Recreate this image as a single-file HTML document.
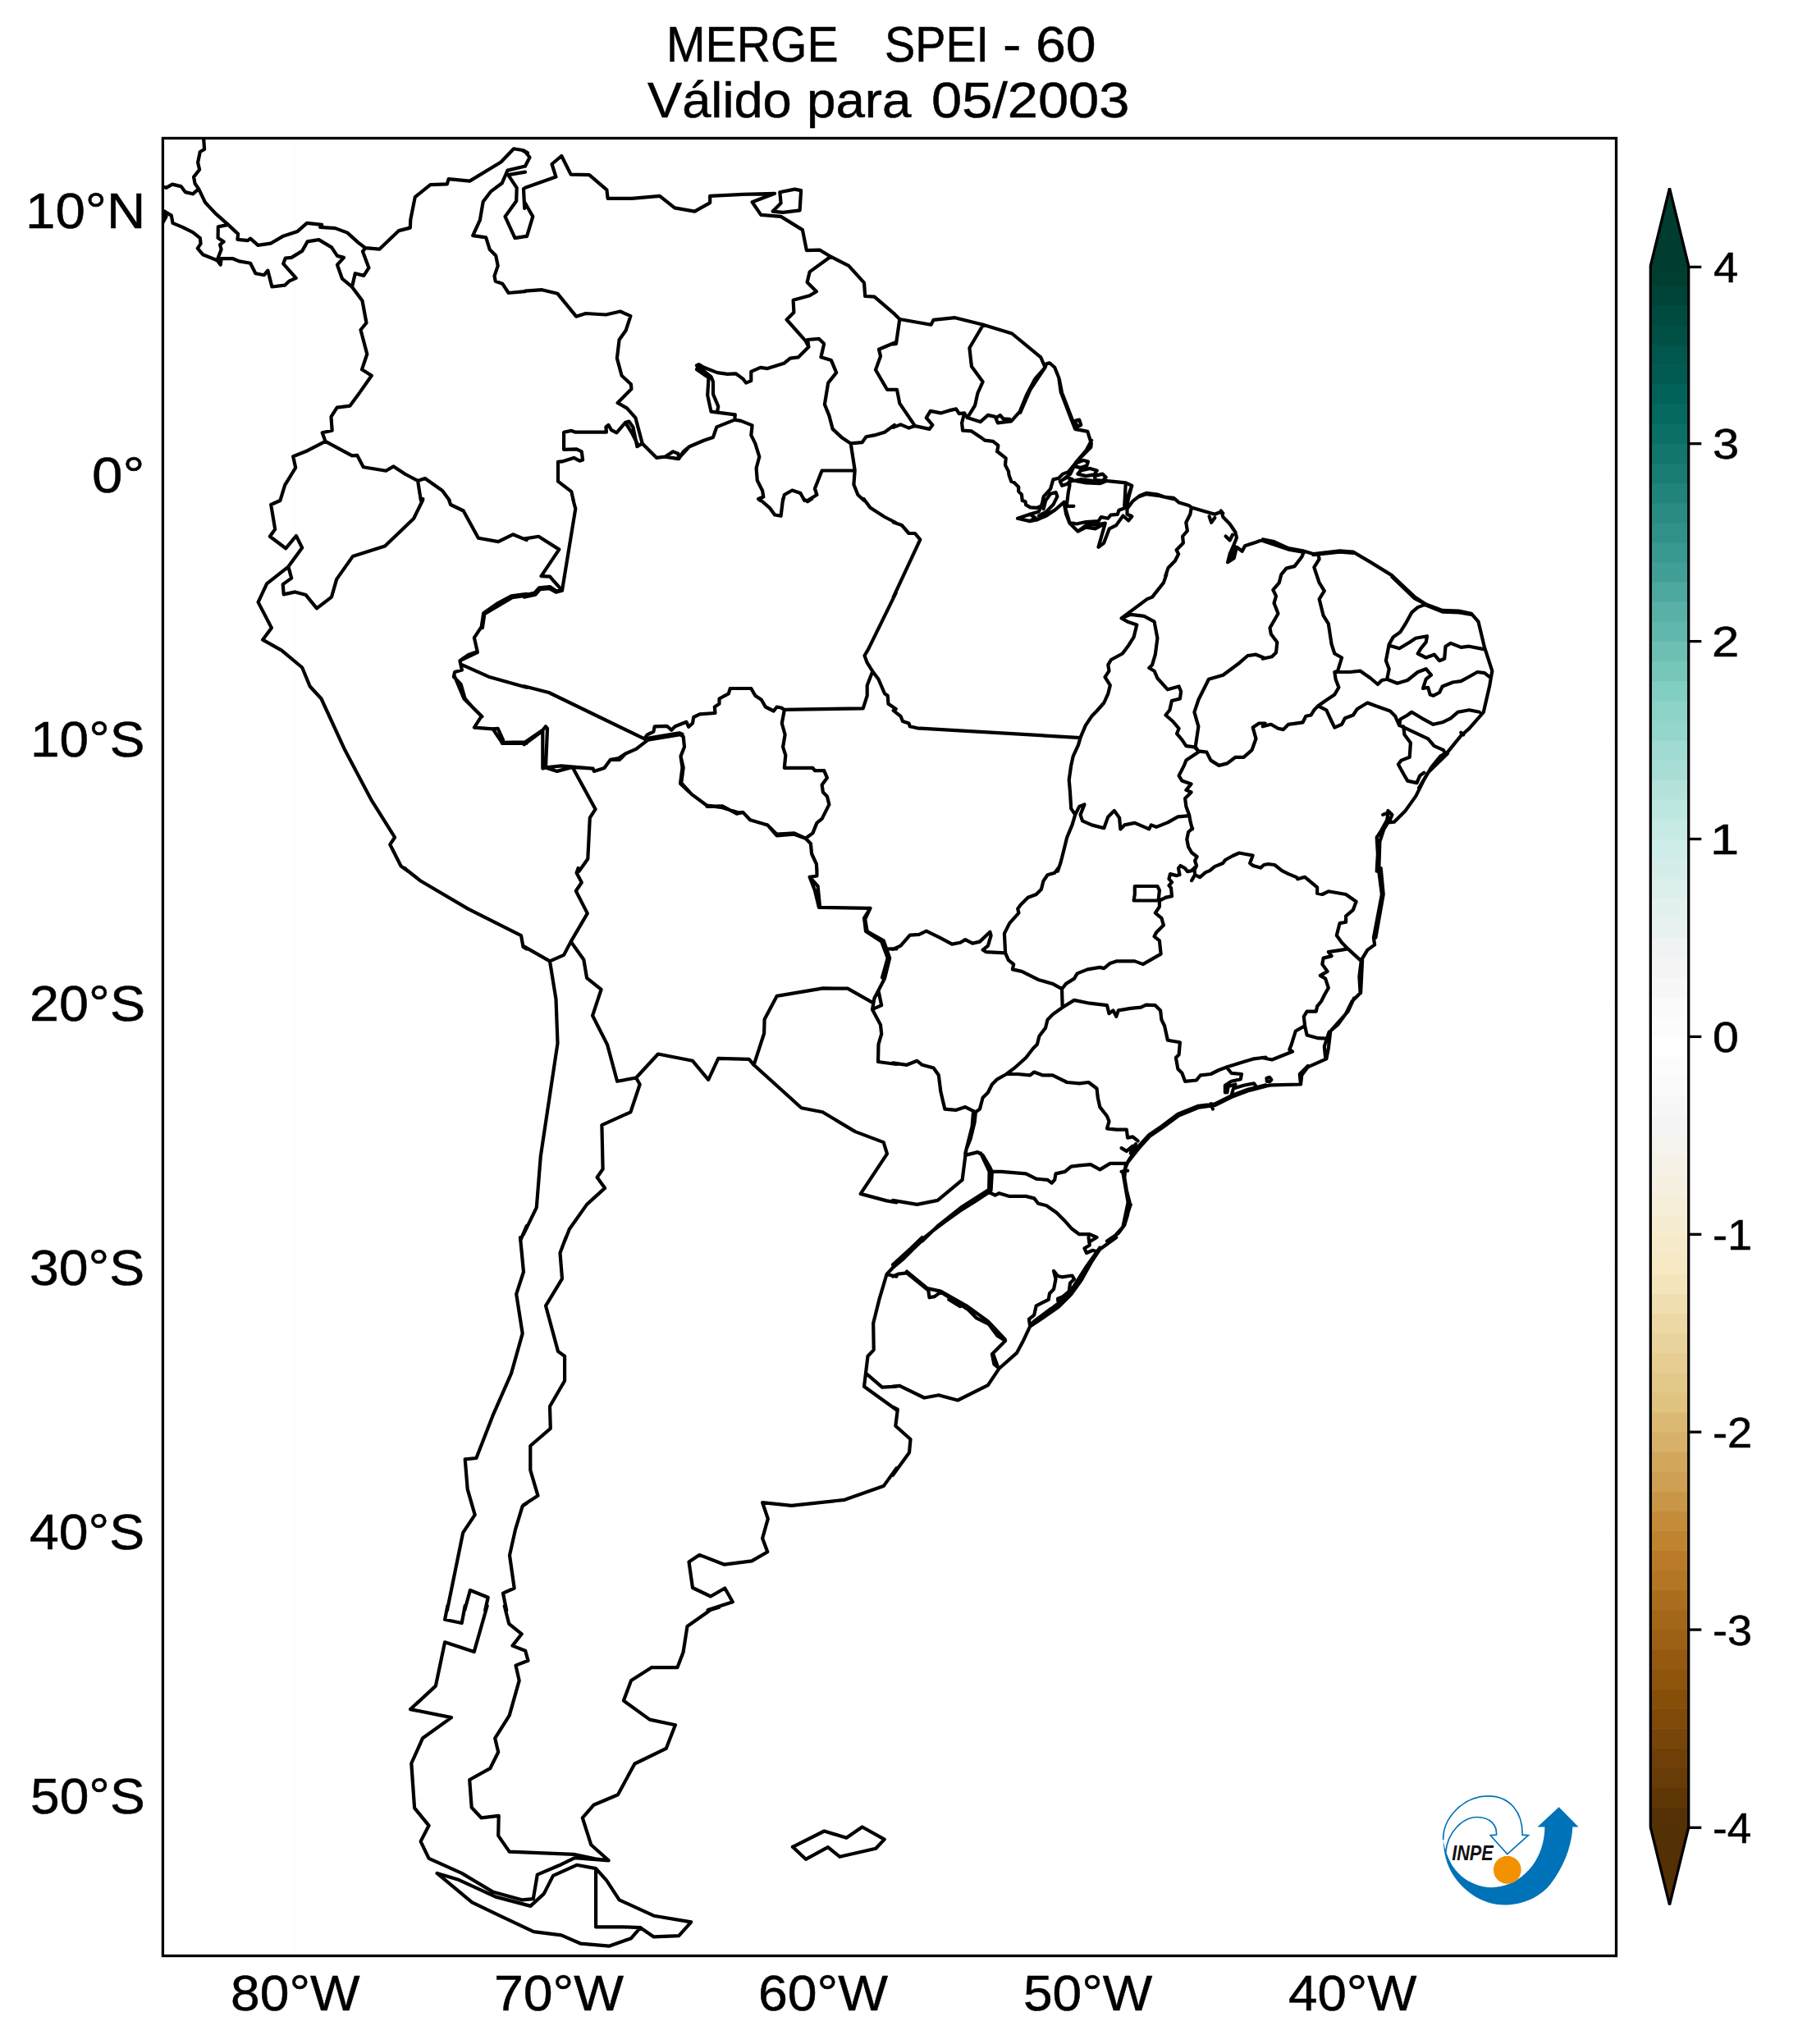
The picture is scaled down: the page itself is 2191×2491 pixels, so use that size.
<!DOCTYPE html>
<html><head><meta charset="utf-8"><title>MERGE SPEI - 60</title>
<style>
html,body{margin:0;padding:0;background:#fff;}
body{width:2191px;height:2491px;position:relative;overflow:hidden;font-family:"Liberation Sans",sans-serif;color:#000;}
.w{position:absolute;white-space:pre;transform-origin:0 0;-webkit-text-stroke:0.5px #000;}
svg{position:absolute;left:0;top:0;}
</style></head><body>
<div class="w" style="left:812.03px;top:22.75px;font-size:61.59px;line-height:61.59px;transform:scaleX(0.9279)">MERGE</div><div class="w" style="left:1077.79px;top:22.75px;font-size:61.59px;line-height:61.59px;transform:scaleX(0.9058)">SPEI</div><div class="w" style="left:1221.99px;top:22.75px;font-size:61.59px;line-height:61.59px;transform:scaleX(1.0868)">-</div><div class="w" style="left:1262.49px;top:22.75px;font-size:61.59px;line-height:61.59px;transform:scaleX(1.0755)">60</div><div class="w" style="left:789.18px;top:91.15px;font-size:61.59px;line-height:61.59px;transform:scaleX(1.0269)">Válido</div><div class="w" style="left:983.46px;top:91.15px;font-size:61.59px;line-height:61.59px;transform:scaleX(1.0337)">para</div><div class="w" style="left:1135.23px;top:91.15px;font-size:61.59px;line-height:61.59px;transform:scaleX(1.0845)">05/2003</div><div class="w" style="left:31.09px;top:225.67px;font-size:61.59px;line-height:61.59px;transform:scaleX(1.0631)">10°N</div><div class="w" style="left:111.91px;top:547.65px;font-size:61.59px;line-height:61.59px;transform:scaleX(1.0937)">0°</div><div class="w" style="left:37.20px;top:869.63px;font-size:61.59px;line-height:61.59px;transform:scaleX(1.0387)">10°S</div><div class="w" style="left:35.56px;top:1191.61px;font-size:61.59px;line-height:61.59px;transform:scaleX(1.0512)">20°S</div><div class="w" style="left:36.43px;top:1513.59px;font-size:61.59px;line-height:61.59px;transform:scaleX(1.0446)">30°S</div><div class="w" style="left:36.39px;top:1835.57px;font-size:61.59px;line-height:61.59px;transform:scaleX(1.0449)">40°S</div><div class="w" style="left:36.94px;top:2157.55px;font-size:61.59px;line-height:61.59px;transform:scaleX(1.0408)">50°S</div><div class="w" style="left:280.71px;top:2397.95px;font-size:61.59px;line-height:61.59px;transform:scaleX(1.0423)">80°W</div><div class="w" style="left:602.38px;top:2397.95px;font-size:61.59px;line-height:61.59px;transform:scaleX(1.0445)">70°W</div><div class="w" style="left:924.38px;top:2397.95px;font-size:61.59px;line-height:61.59px;transform:scaleX(1.0445)">60°W</div><div class="w" style="left:1247.04px;top:2397.95px;font-size:61.59px;line-height:61.59px;transform:scaleX(1.0401)">50°W</div><div class="w" style="left:1570.01px;top:2397.95px;font-size:61.59px;line-height:61.59px;transform:scaleX(1.0337)">40°W</div><div class="w" style="left:2087.64px;top:299.81px;font-size:52.17px;line-height:52.17px;transform:scaleX(1.0427)">4</div><div class="w" style="left:2086.69px;top:515.11px;font-size:52.17px;line-height:52.17px;transform:scaleX(1.1092)">3</div><div class="w" style="left:2086.01px;top:756.01px;font-size:52.17px;line-height:52.17px;transform:scaleX(1.1458)">2</div><div class="w" style="left:2084.26px;top:996.91px;font-size:52.17px;line-height:52.17px;transform:scaleX(1.2124)">1</div><div class="w" style="left:2086.71px;top:1237.81px;font-size:52.17px;line-height:52.17px;transform:scaleX(1.0975)">0</div><div class="w" style="left:2086.55px;top:1478.71px;font-size:52.17px;line-height:52.17px;transform:scaleX(1.0415)">-1</div><div class="w" style="left:2086.55px;top:1719.61px;font-size:52.17px;line-height:52.17px;transform:scaleX(1.0415)">-2</div><div class="w" style="left:2086.57px;top:1960.51px;font-size:52.17px;line-height:52.17px;transform:scaleX(1.0350)">-3</div><div class="w" style="left:2086.61px;top:2201.71px;font-size:52.17px;line-height:52.17px;transform:scaleX(1.0160)">-4</div>
<svg width="2191" height="2491" viewBox="0 0 2191 2491">
<defs><clipPath id="c"><rect x="198.4" y="168.45" width="1771.1" height="2215.1"/></clipPath></defs>
<line x1="360.0" y1="168.45" x2="360.0" y2="2383.5" stroke="#000" stroke-opacity="0.007" stroke-width="2"/><line x1="682.0" y1="168.45" x2="682.0" y2="2383.5" stroke="#000" stroke-opacity="0.007" stroke-width="2"/><line x1="1004.0" y1="168.45" x2="1004.0" y2="2383.5" stroke="#000" stroke-opacity="0.007" stroke-width="2"/><line x1="1326.0" y1="168.45" x2="1326.0" y2="2383.5" stroke="#000" stroke-opacity="0.007" stroke-width="2"/><line x1="1648.0" y1="168.45" x2="1648.0" y2="2383.5" stroke="#000" stroke-opacity="0.007" stroke-width="2"/><line x1="198.4" y1="260.0" x2="1969.5" y2="260.0" stroke="#000" stroke-opacity="0.007" stroke-width="2"/><line x1="198.4" y1="582.0" x2="1969.5" y2="582.0" stroke="#000" stroke-opacity="0.007" stroke-width="2"/><line x1="198.4" y1="904.0" x2="1969.5" y2="904.0" stroke="#000" stroke-opacity="0.007" stroke-width="2"/><line x1="198.4" y1="1226.0" x2="1969.5" y2="1226.0" stroke="#000" stroke-opacity="0.007" stroke-width="2"/><line x1="198.4" y1="1547.9" x2="1969.5" y2="1547.9" stroke="#000" stroke-opacity="0.007" stroke-width="2"/><line x1="198.4" y1="1869.9" x2="1969.5" y2="1869.9" stroke="#000" stroke-opacity="0.007" stroke-width="2"/><line x1="198.4" y1="2191.9" x2="1969.5" y2="2191.9" stroke="#000" stroke-opacity="0.007" stroke-width="2"/>
<g clip-path="url(#c)"><path d="M1088.0 1156.9 L1097.5 1152.6 L1108.8 1139.6 L1120.0 1138.8 L1128.8 1134.6 L1145.1 1142.6 L1160.1 1150.6 L1170.1 1148.8 L1176.3 1145.1 L1185.1 1149.6 L1193.9 1147.6 L1206.4 1135.8 L1207.6 1140.1 L1203.9 1152.6 L1197.6 1157.6 L1201.4 1160.1 L1225.1 1161.4 M1289.5 1058.0 L1285.2 1063.8 L1276.5 1066.3 L1271.4 1073.8 L1268.9 1083.8 L1262.7 1090.0 L1252.7 1093.8 L1243.9 1102.5 L1240.2 1107.6 L1241.4 1112.6 L1230.2 1125.1 L1223.9 1137.6 L1225.1 1161.4 L1228.9 1170.1 L1235.2 1175.1 L1233.9 1181.4 L1245.2 1183.9 L1265.2 1193.9 L1282.7 1198.9 L1294.0 1205.2 M1294.0 1205.2 L1299.0 1198.9 L1309.0 1192.6 L1312.7 1186.4 L1325.3 1181.4 L1340.3 1178.9 L1345.3 1180.1 L1352.8 1173.9 L1360.3 1171.4 L1382.8 1171.4 L1392.8 1175.1 L1414.6 1162.6 L1412.9 1146.3 L1406.6 1141.3 L1409.1 1136.3 L1417.9 1127.6 L1415.4 1118.8 L1407.8 1112.6 L1412.9 1105.0 L1412.9 1097.5 L1420.4 1093.8 M1382.8 1080.0 L1410.4 1080.0 L1412.9 1085.0 L1411.6 1097.5 L1381.6 1097.5 L1382.8 1090.0 L1382.8 1080.0 M1294.0 1205.2 L1294.7 1227.7 L1282.7 1236.4 L1276.5 1242.7 L1274.0 1252.7 L1266.4 1262.7 L1263.9 1272.7 L1258.9 1277.7 L1250.2 1289.0 L1237.7 1300.3 L1226.4 1309.0 L1215.1 1315.3 L1208.9 1321.5 L1203.9 1331.5 L1197.6 1337.8 L1193.9 1351.6 L1188.9 1355.3 M1294.7 1227.7 L1309.0 1218.9 L1327.8 1222.7 L1349.0 1225.2 L1351.5 1235.2 L1356.5 1231.4 L1360.3 1238.9 L1362.8 1231.4 L1377.8 1228.9 L1390.3 1227.7 L1396.6 1224.7 L1407.8 1225.2 L1414.1 1231.4 L1415.4 1242.7 L1419.1 1250.2 L1422.9 1267.7 L1437.9 1270.2 L1436.6 1285.2 L1432.9 1289.0 L1435.4 1302.8 L1440.4 1307.8 L1444.1 1317.8 L1457.9 1316.5 L1462.9 1310.3 L1475.4 1309.0 L1485.4 1304.0 L1495.4 1300.3 L1515.5 1294.0 L1528.0 1290.3 L1542.5 1288.5 M1495.4 1301.5 L1500.5 1307.8 L1513.0 1309.0 L1511.7 1315.3 L1500.5 1317.8 L1492.9 1322.8 L1492.9 1331.5 M1226.4 1309.0 L1240.2 1309.0 L1255.2 1310.3 L1260.2 1306.5 L1270.2 1310.3 L1282.7 1310.3 L1300.2 1319.0 L1315.2 1320.3 L1326.5 1319.0 L1336.5 1326.5 L1337.8 1337.8 L1340.3 1349.1 L1349.0 1360.3 L1351.5 1366.6 L1349.0 1375.3 L1360.3 1376.6 L1372.8 1376.6 L1374.1 1386.6 L1380.3 1385.4 L1386.6 1390.4 M1542.5 1322.3 L1520.5 1327.8 L1500.5 1335.3 L1480.4 1345.3 L1460.4 1347.8 L1435.4 1357.8 L1415.4 1372.8 L1400.3 1382.9 L1386.6 1397.9 L1377.8 1410.4 L1371.6 1420.4 L1370.3 1435.4 L1372.8 1450.4 L1376.6 1465.4 L1374.1 1480.5 L1370.3 1493.0 L1362.8 1503.0 L1349.0 1512.5 M1542.5 1323.8 L1521.0 1329.3 L1501.0 1336.8 L1480.9 1346.8 L1460.9 1349.6 L1436.4 1359.6 L1416.4 1374.3 L1401.3 1384.4 L1387.8 1399.4 L1374.1 1416.6 L1368.6 1430.4 L1374.6 1465.4 L1368.3 1495.5 L1360.3 1504.2 M1500.5 1335.3 L1503.0 1326.5 L1515.5 1322.8 L1528.0 1320.3 L1530.5 1324.0 M1495.4 1331.5 L1496.7 1324.0 L1505.5 1321.5 M1475.4 1345.3 L1477.9 1351.6 M1366.6 1399.1 L1372.8 1402.9 L1380.3 1396.6 L1377.8 1405.4 L1384.1 1394.1 M1377.8 1467.9 L1374.8 1476.7 M1366.6 1427.9 L1374.1 1426.7 M1371.6 1417.9 L1352.8 1417.9 L1340.3 1425.4 L1329.0 1419.1 L1315.2 1420.4 L1305.2 1421.6 L1297.7 1427.9 L1286.5 1430.4 L1285.2 1437.9 L1281.5 1441.7 L1276.5 1437.9 L1262.7 1436.7 L1250.2 1430.4 L1235.2 1429.2 L1220.1 1427.9 L1210.1 1427.9 M1205.1 1452.9 L1212.6 1456.7 L1217.6 1454.2 L1230.2 1457.9 L1250.2 1457.9 L1260.2 1460.4 L1265.2 1466.7 L1275.2 1469.2 L1287.7 1478.0 L1297.7 1488.0 L1305.2 1496.7 L1315.2 1504.2 L1327.8 1504.2 L1336.5 1508.0 L1329.0 1512.5 M1088.0 1295.3 L1105.0 1297.8 L1117.5 1292.8 L1123.8 1297.8 L1137.6 1301.5 L1143.8 1310.3 L1146.3 1330.3 L1151.3 1351.6 L1165.1 1352.8 L1176.3 1349.1 L1188.9 1355.3 L1187.6 1367.8 L1182.6 1387.9 L1177.6 1400.4 L1176.3 1407.9 L1191.4 1404.1 L1197.6 1407.9 L1206.4 1422.9 L1208.9 1427.9 L1207.6 1450.4 L1205.1 1452.9 M1185.9 1356.6 L1184.6 1372.8 L1176.3 1405.4 M1195.1 1405.4 L1205.6 1427.9 L1205.1 1450.4 M1176.3 1409.1 L1172.6 1437.9 L1142.6 1462.9 L1117.5 1467.9 L1088.0 1462.9 M1205.1 1452.9 L1190.1 1462.9 L1170.1 1475.5 L1152.6 1488.0 L1137.6 1499.2 L1121.3 1512.5 M1203.9 1450.4 L1172.6 1470.5 L1142.6 1494.2 L1123.8 1512.5 M1127.5 1508.0 L1112.5 1522.5 L1100.0 1535.0 L1088.0 1545.0 M1123.8 1508.0 L1110.0 1521.3 L1088.0 1541.3 M1088.0 1555.6 L1095.0 1552.5 L1105.0 1551.3 L1131.3 1572.6 L1132.5 1581.3 L1138.8 1580.1 L1146.3 1574.6 L1162.6 1585.1 L1180.1 1596.3 L1190.1 1606.4 L1205.1 1613.9 L1215.1 1627.6 L1225.1 1633.9 L1208.9 1650.2 L1211.4 1662.7 L1217.6 1667.7 M1105.0 1549.5 L1130.0 1570.1 L1146.3 1573.6 L1177.6 1591.3 L1203.9 1610.1 L1224.6 1632.1 M1210.1 1649.7 L1213.9 1660.2 L1216.4 1667.2 M1156.3 1583.8 L1170.1 1592.1 M1360.3 1508.0 L1340.3 1522.5 L1330.3 1537.5 L1317.8 1560.1 L1305.2 1577.6 L1290.2 1592.6 L1270.2 1606.4 L1255.2 1616.4 L1246.4 1635.1 L1238.9 1648.9 L1217.6 1667.7 L1203.9 1688.2 L1167.1 1706.5 L1143.8 1700.2 L1126.3 1703.5 L1096.3 1688.9 L1088.0 1689.7 M1340.3 1520.5 L1322.8 1545.0 L1307.7 1568.8 L1295.2 1583.8 L1257.2 1613.9 M1255.2 1616.4 L1253.9 1607.6 L1260.2 1602.6 L1262.7 1591.3 L1277.7 1583.8 L1279.0 1576.3 L1284.0 1571.3 L1286.5 1558.8 L1284.0 1548.8 L1289.0 1555.0 L1294.0 1556.3 L1306.5 1554.5 L1309.0 1558.8 L1304.0 1563.8 L1302.7 1573.8 L1295.2 1580.1 L1289.0 1582.6 L1290.2 1592.6 L1280.2 1595.1 L1265.2 1606.4 L1260.2 1610.1 L1255.2 1616.4 M1326.5 1508.0 L1327.8 1517.5 L1321.5 1521.3 L1324.0 1527.0 L1331.5 1523.8 L1337.8 1525.5 M1088.0 1714.7 L1093.8 1717.7 L1091.3 1737.8 L1109.5 1754.0 L1108.0 1770.3 L1088.0 1797.8 M1088.7 381.5 L1090.0 382.7 L1096.3 389.0 L1134.5 395.8 L1137.6 389.8 L1163.8 387.2 L1198.1 395.8 L1233.2 406.5 L1268.2 435.3 L1273.5 447.8 M1096.3 389.0 L1092.0 419.0 L1088.7 419.5 M1088.7 474.8 L1093.0 474.8 L1096.3 491.6 L1115.0 519.1 M1198.1 395.8 L1181.4 424.0 L1183.9 446.6 L1197.6 465.3 L1191.4 479.1 L1188.1 494.1 L1178.8 509.1 M1088.7 520.9 L1097.5 517.4 L1107.5 521.6 L1115.0 519.1 L1132.5 522.9 L1136.3 517.9 L1128.8 509.1 L1133.8 500.9 L1146.3 503.4 L1156.3 500.4 L1165.1 498.4 L1168.8 504.1 L1175.1 503.4 L1178.8 509.1 L1194.6 514.1 L1203.9 505.9 L1212.6 507.9 L1215.9 515.4 L1232.2 513.4 L1242.7 501.6 L1251.4 480.4 L1261.4 461.6 L1273.5 447.8 M1213.9 509.1 L1218.9 506.1 L1222.6 510.4 L1230.2 510.9 M1243.2 502.9 L1255.2 475.3 L1273.5 447.8 M1175.1 503.4 L1172.1 515.4 L1173.1 524.7 L1183.9 525.4 L1195.1 532.9 L1200.1 536.7 L1210.1 537.9 L1216.4 542.9 L1215.1 550.4 M1273.5 447.8 L1275.2 443.3 L1279.0 442.3 L1285.2 447.8 L1290.2 460.3 L1292.7 477.8 L1305.2 510.4 L1310.2 522.9 L1325.3 525.9 L1329.8 540.4 M1290.7 461.6 L1294.0 478.4 L1306.5 510.9 L1311.5 523.4 M1310.2 512.9 L1315.2 511.6 L1317.2 517.9 L1312.7 520.4 L1310.2 512.9 M1088.7 636.5 L1098.8 640.0 L1107.5 650.0 L1115.0 650.0 L1121.3 657.6 L1088.7 727.6 M1088.7 865.8 L1097.5 872.8 L1100.0 879.0 L1107.5 881.5 L1108.8 885.3 L1117.5 887.3 L1316.5 899.1 M1366.6 753.4 L1374.1 757.7 L1385.3 761.4 L1381.6 776.4 L1375.3 786.4 L1367.8 796.5 L1354.0 804.0 L1350.3 810.2 L1351.5 817.7 L1346.5 825.2 L1352.8 835.2 L1350.3 845.3 L1345.3 856.5 L1336.5 866.5 L1330.3 872.8 L1322.8 884.1 L1316.5 899.1 L1314.0 907.8 L1307.7 921.6 L1305.2 932.9 L1302.7 950.4 L1304.0 965.4 L1305.2 985.4 L1310.2 992.9 L1306.5 1005.4 L1300.2 1020.5 L1296.5 1035.5 L1292.7 1050.5 L1289.0 1061.7 M1366.6 753.4 L1397.8 730.1 L1404.1 727.6 L1417.9 710.1 L1421.4 700.1 M1366.6 753.4 L1377.8 748.9 L1394.1 750.9 L1406.6 757.7 L1410.4 777.7 L1407.8 797.7 L1404.1 810.2 L1400.3 814.0 L1406.6 817.7 L1410.4 826.5 L1422.9 840.3 L1436.6 836.5 L1439.1 842.8 L1437.9 851.5 L1427.9 854.0 L1425.4 865.3 L1420.4 871.5 L1429.1 879.0 L1436.6 887.8 L1434.1 894.1 L1440.4 901.6 L1445.4 909.1 L1455.4 910.3 L1460.4 915.3 M1460.4 915.3 L1456.7 910.3 L1460.4 885.3 L1455.4 867.8 L1460.4 852.8 L1469.2 835.2 L1472.9 827.7 L1490.4 822.7 L1500.5 815.2 L1510.5 807.7 L1520.5 799.0 L1530.5 797.7 L1541.7 802.2 M1460.4 915.3 L1470.4 916.6 L1475.4 926.6 L1485.4 932.9 L1495.4 930.4 L1505.5 922.8 L1515.5 922.8 L1525.5 914.1 L1530.5 900.3 L1526.7 886.6 L1534.2 881.5 L1541.7 881.5 M1460.4 916.6 L1445.4 926.6 L1442.9 932.9 L1436.6 945.4 L1440.4 951.6 L1451.6 955.4 L1445.4 962.9 L1451.6 965.4 L1444.1 972.9 L1445.4 982.9 L1449.1 992.9 L1450.4 1000.4 L1452.9 1010.4 M1310.2 992.9 L1315.2 982.9 L1321.5 980.4 L1316.5 992.9 L1319.0 1000.4 L1330.3 1005.4 L1345.3 1009.2 L1350.3 995.4 L1357.8 987.9 L1364.1 996.7 L1365.3 1010.4 L1370.3 1005.4 L1382.8 1002.9 L1400.3 1010.4 L1402.8 1005.4 L1409.1 1007.9 L1422.9 1002.4 L1435.4 995.4 L1449.1 994.2 M1215.0 550.0 L1225.7 558.4 L1225.0 566.7 L1229.0 574.6 L1229.5 578.9 L1232.3 586.7 L1235.7 587.9 L1241.2 593.4 L1241.2 598.9 L1245.0 602.8 L1245.7 610.1 L1249.5 611.3 L1250.0 615.1 L1255.5 618.4 L1262.9 618.9 L1269.0 616.8 L1271.7 606.8 M1329.8 540.4 L1329.3 545.0 L1318.4 555.9 L1310.1 565.1 L1301.8 575.1 L1295.1 577.6 L1290.1 582.7 L1283.4 584.4 L1280.1 595.9 L1271.7 605.1 L1270.0 613.4 L1265.9 623.5 L1255.0 626.8 L1240.0 631.8 L1255.0 635.1 L1263.4 633.5 L1285.1 621.8 L1296.7 611.8 M1330.1 536.7 L1323.4 549.2 L1310.9 563.7 L1304.3 577.6 L1296.7 583.4 M1255.0 626.8 L1261.7 631.0 L1255.0 635.1 M1311.8 564.2 L1320.1 560.9 L1325.9 562.5 L1324.3 567.6 L1316.8 570.1 L1310.1 568.4 L1311.8 564.2 M1316.8 573.4 L1328.4 570.9 L1336.8 573.4 L1333.5 578.4 L1323.4 580.1 L1313.4 577.6 L1316.8 573.4 M1333.5 580.1 L1343.5 577.6 L1347.6 581.7 L1343.5 585.9 L1335.1 585.1 L1333.5 580.1 M1291.7 586.7 L1300.1 581.7 L1306.8 584.2 L1300.1 590.1 L1294.2 591.8 L1291.7 586.7 M1271.7 620.1 L1274.2 610.1 L1280.1 601.8 L1286.7 600.1 L1288.4 605.1 L1283.4 615.1 L1275.1 623.5 L1265.9 628.5 M1285.1 621.8 L1275.1 628.5 L1263.4 633.5 M1303.4 586.7 L1316.8 584.2 L1336.8 586.7 L1346.8 585.9 L1371.8 588.4 L1379.3 591.8 L1375.2 606.8 L1372.7 618.4 L1368.5 620.1 L1363.5 621.8 L1361.8 626.8 L1353.5 627.6 L1350.1 631.8 L1341.8 630.1 L1338.5 635.1 L1323.4 636.0 L1311.8 638.5 L1303.4 636.8 L1298.4 620.1 L1300.1 613.4 L1301.8 600.1 L1303.4 591.8 L1303.4 586.7 M1310.1 585.9 L1323.4 588.4 L1340.1 589.2 L1346.8 586.7 M1371.8 588.4 L1370.2 616.8 L1379.3 591.8 M1300.1 616.8 L1308.4 616.8 M1296.7 613.4 L1299.2 626.8 L1303.4 637.6 L1313.4 647.6 L1323.4 642.6 L1335.1 644.3 L1346.8 637.6 L1338.5 666.8 L1345.1 661.8 L1351.8 644.3 L1360.2 640.1 L1368.5 628.5 L1375.2 634.3 L1379.3 629.3 L1373.5 626.8 L1373.5 620.1 M1313.4 647.6 L1323.4 640.1 L1336.8 639.3 L1346.8 637.6 M1373.5 620.1 L1380.2 610.9 L1388.5 604.3 L1396.9 600.9 L1410.2 602.6 L1420.2 605.9 L1430.2 606.8 L1436.9 612.6 L1448.6 615.9 L1451.9 618.4 L1480.3 626.8 L1488.6 623.5 L1490.3 630.1 L1498.6 638.5 L1505.3 648.5 L1507.0 655.2 L1503.7 663.5 L1498.6 675.2 L1496.1 685.2 L1503.7 680.2 L1507.0 666.8 L1513.7 671.8 L1517.0 665.2 L1530.0 661.0 L1538.7 657.8 M1388.5 605.1 L1396.9 602.1 L1410.2 603.8 L1430.2 608.1 M1473.6 629.3 L1476.1 636.8 L1480.3 631.0 M1493.6 653.5 L1498.6 658.5 L1502.0 651.8 M1503.7 663.5 L1497.0 684.4 L1506.2 666.8 M1487.8 622.6 L1490.3 625.5 M1451.9 618.4 L1450.3 626.8 L1445.3 636.8 L1446.9 646.8 L1441.1 653.5 L1441.9 661.8 L1433.6 670.2 L1436.1 675.2 L1431.9 683.5 L1423.6 691.9 L1420.2 701.9 M1453.1 1009.5 L1448.1 1014.0 L1446.3 1023.0 L1448.1 1032.0 L1452.1 1039.0 L1458.6 1044.0 L1456.1 1049.0 L1458.1 1055.0 L1455.6 1060.1 L1456.1 1066.1 L1452.1 1073.1 M1420.0 1093.9 L1428.0 1092.1 L1427.0 1082.1 L1424.5 1079.1 L1428.0 1075.1 L1424.5 1071.1 L1426.0 1065.1 L1434.0 1067.1 L1437.5 1066.1 L1436.0 1058.1 L1438.5 1055.0 L1444.0 1058.1 L1447.1 1062.1 L1452.1 1061.1 L1456.1 1057.1 M1456.1 1066.1 L1462.1 1069.1 L1469.1 1063.1 L1474.1 1061.1 L1480.1 1056.1 L1490.1 1052.0 L1493.1 1048.0 L1502.1 1043.0 L1510.1 1039.5 L1518.1 1041.0 L1526.6 1042.5 L1523.1 1052.0 L1527.1 1055.0 L1536.1 1057.6 L1540.2 1054.0 L1545.2 1053.0 L1553.2 1054.0 L1562.2 1061.1 L1570.2 1065.1 L1580.0 1069.1 L1581.3 1071.3 M1679.7 1058.0 L1683.9 1090.0 L1677.7 1122.6 L1673.9 1142.6 L1675.1 1151.4 L1666.4 1157.6 L1658.9 1170.1 L1656.4 1190.1 L1657.6 1210.2 L1647.6 1220.2 L1640.1 1235.2 L1630.1 1249.0 L1621.3 1256.5 L1618.8 1277.7 L1616.3 1290.3 L1593.8 1300.3 L1586.3 1310.3 L1585.0 1321.5 L1550.0 1322.3 L1538.0 1324.5 M1682.7 1058.0 L1685.7 1090.0 L1676.4 1142.6 M1660.1 1170.1 L1658.1 1210.2 M1650.1 1216.4 L1642.6 1232.7 L1622.6 1255.2 M1619.6 1257.7 L1613.8 1275.2 L1615.1 1289.0 M1593.8 1299.0 L1583.8 1309.0 L1585.0 1321.5 M1581.3 1071.3 L1590.1 1068.8 L1605.1 1081.3 L1605.1 1088.8 L1611.3 1090.0 L1618.8 1086.3 L1640.1 1090.0 L1652.6 1098.8 L1648.9 1108.8 L1640.1 1116.3 L1640.1 1123.8 L1632.6 1125.1 L1628.8 1140.1 L1635.1 1148.8 L1642.6 1156.4 M1642.6 1156.4 L1657.6 1170.1 M1642.6 1156.4 L1635.1 1157.6 L1618.8 1160.1 L1622.6 1165.1 L1612.6 1167.6 L1611.3 1175.1 L1617.6 1183.9 L1608.8 1188.9 L1615.1 1192.6 L1618.8 1203.9 L1613.8 1212.7 L1610.1 1220.2 L1605.1 1226.4 L1603.8 1232.7 L1592.6 1232.7 L1588.8 1238.9 L1590.1 1250.2 M1590.1 1250.2 L1592.6 1261.5 L1606.3 1265.2 L1616.3 1265.7 M1590.1 1250.2 L1578.8 1256.5 L1573.8 1272.7 L1571.3 1279.0 L1575.0 1281.5 L1550.0 1291.5 L1538.0 1289.0 M1543.5 1314.0 L1547.0 1312.8 L1549.3 1315.8 L1547.0 1318.5 L1543.8 1317.8 L1543.5 1314.0 M1538.7 657.3 L1552.5 660.1 L1570.0 668.1 L1587.6 671.3 L1600.1 675.1 L1632.6 671.3 L1648.9 672.6 L1670.1 685.1 L1696.4 701.4 L1724.0 727.6 L1737.7 736.4 L1757.7 743.9 L1777.8 744.6 L1792.8 747.7 L1801.5 757.7 L1809.0 788.9 L1818.3 817.7 L1815.3 835.2 L1807.8 867.8 L1790.3 887.8 L1780.3 896.6 L1764.0 916.6 L1755.2 921.6 L1744.0 935.4 L1735.2 950.4 L1725.2 970.4 L1712.7 987.9 L1698.9 1001.7 L1691.4 1002.4 L1686.4 1010.4 L1681.4 1025.5 L1680.2 1061.7 M1538.7 659.1 L1570.0 669.6 L1587.6 672.6 M1600.1 676.1 L1632.6 672.6 L1648.9 673.8 M1696.4 703.1 L1724.0 729.4 L1737.7 736.4 M1737.7 737.6 L1757.7 745.6 L1777.8 746.4 L1792.8 748.9 M1764.0 918.3 L1740.2 941.6 L1729.0 960.4 M1780.3 892.8 L1783.3 895.3 M1588.8 672.6 L1586.3 678.8 L1577.5 690.1 L1567.5 692.6 L1561.3 700.1 L1558.8 710.1 L1551.3 718.9 L1555.0 726.4 L1552.5 735.1 L1557.5 747.7 L1547.5 765.2 L1548.8 772.7 L1556.3 782.7 L1555.0 795.2 L1550.0 800.2 L1538.7 802.7 M1606.3 675.6 L1607.6 681.3 L1601.3 691.3 L1607.6 710.1 L1613.8 720.1 L1607.6 730.1 L1612.6 750.2 L1618.8 760.2 L1622.6 785.2 L1626.3 796.5 L1635.1 801.5 L1630.1 817.7 L1626.3 819.0 L1627.6 827.7 L1631.4 837.8 L1626.3 846.5 L1615.1 854.0 L1606.3 860.3 L1601.3 865.3 L1597.6 871.5 L1591.3 872.8 L1587.6 880.3 L1570.0 882.8 L1563.8 889.1 L1557.5 887.8 L1548.8 882.8 L1538.7 885.3 M1626.3 819.0 L1645.1 819.0 L1657.6 817.7 L1670.1 826.5 L1678.9 834.0 L1683.9 829.0 L1690.2 827.7 M1690.2 827.7 L1692.7 815.2 L1688.9 805.2 L1692.7 785.2 L1697.7 776.4 L1706.4 770.2 L1712.7 760.2 L1720.2 746.4 L1727.7 740.1 L1737.7 736.4 M1692.7 786.4 L1705.2 790.2 L1717.7 782.7 L1725.2 777.7 L1739.0 775.2 L1737.7 782.7 L1731.5 790.2 L1727.7 796.5 L1737.7 801.5 L1747.7 797.7 L1754.0 805.2 L1760.2 802.7 L1761.5 787.7 L1767.8 783.9 L1780.3 788.9 L1790.3 787.7 L1809.0 791.4 M1690.2 827.7 L1702.7 832.7 L1715.2 829.0 L1727.7 819.0 L1737.7 815.2 L1744.0 822.7 L1737.7 827.7 L1734.0 839.0 L1740.2 837.8 L1742.7 846.5 L1746.5 847.8 L1754.0 844.0 L1757.7 836.5 L1770.3 831.5 L1780.3 830.2 L1791.5 824.0 L1800.3 819.0 L1809.0 820.2 L1815.3 825.2 M1606.3 860.3 L1616.3 865.3 L1622.6 879.0 L1626.3 886.6 L1635.1 882.8 L1638.9 875.3 L1648.9 871.5 L1653.9 864.0 L1666.4 856.5 L1676.4 860.3 L1693.9 866.5 L1700.2 872.8 L1705.2 884.1 L1706.4 876.5 L1715.2 871.5 L1720.2 867.8 L1732.7 875.3 L1746.5 882.8 L1757.7 880.3 L1767.8 875.3 L1776.5 867.8 L1790.3 865.3 L1802.8 867.8 M1705.7 884.1 L1740.2 900.3 L1747.7 909.1 L1759.0 914.1 L1761.5 919.8 M1710.2 885.3 L1711.4 895.3 L1718.9 905.3 L1717.7 922.8 L1707.7 926.6 L1703.9 931.6 L1710.2 942.9 L1715.2 951.6 L1726.5 954.1 L1730.2 945.4 L1735.2 941.6 M1691.4 987.9 L1696.4 992.9 L1692.7 1001.7 M1685.2 992.9 L1691.4 990.4 L1690.2 999.2 L1682.7 1012.9 L1677.7 1020.5 L1678.9 1040.5 L1677.7 1061.7 M493.3 1058.0 L495.3 1060.0 L512.9 1073.8 L570.4 1107.6 L635.0 1140.1 L637.5 1153.9 L641.7 1156.6 M641.7 1494.2 L634.2 1511.7 M634.0 1508.0 L638.0 1550.0 L629.2 1577.1 L636.7 1625.1 L623.0 1673.9 L600.5 1725.2 L580.4 1777.0 L566.7 1778.3 L569.7 1814.8 L578.7 1846.1 L564.2 1867.9 L544.9 1962.5 M642.5 1831.6 L636.7 1835.4 L628.0 1864.1 L621.0 1895.4 L626.7 1935.5 L613.0 1941.7 L617.2 1962.5 M566.2 1962.5 L572.9 1938.0 L594.7 1946.7 L591.2 1962.5 M248.1 168.5 L249.1 182.0 L243.8 185.0 L241.1 198.0 L243.1 206.8 L236.1 215.6 L237.6 223.8 L242.1 230.1 L250.1 246.8 L262.6 260.1 L278.1 273.9 L290.1 285.1 L289.4 291.9 L301.9 293.1 L305.1 290.6 L314.4 298.9 L329.7 296.7 L344.4 288.1 L362.7 281.9 L374.0 271.9 L392.2 273.9 L390.2 276.9 L408.5 278.1 L423.3 283.6 L436.5 295.6 L445.3 302.2 L462.3 303.7 L486.1 281.1 L499.8 277.6 L500.3 267.6 L505.8 240.1 L524.4 225.1 L544.9 224.3 L546.6 218.1 L572.4 220.6 L610.5 197.5 L626.0 181.3 L638.0 183.3 L643.0 186.3 M198.3 227.6 L202.5 228.8 L210.0 224.6 L220.5 227.1 L225.8 234.1 L235.0 236.3 L242.1 230.1 M198.3 256.4 L208.8 262.6 L210.5 271.9 L222.5 276.9 L235.0 283.1 L243.8 290.1 L244.6 296.9 L240.8 302.7 L247.1 310.2 L264.6 317.2 L268.8 322.7 L269.6 315.2 L283.9 315.2 L291.4 318.4 L305.1 320.7 L311.4 333.2 L321.9 335.2 L326.4 329.7 L331.4 349.5 L346.9 347.7 L352.2 342.7 L360.7 338.9 L345.2 321.4 L347.7 314.7 L355.2 313.9 L368.2 305.9 L374.7 294.4 L388.5 292.1 L404.0 301.4 L411.0 311.9 L419.0 313.9 L411.0 322.7 L417.0 339.7 L429.0 349.7 L441.5 366.5 L446.5 393.5 L439.5 402.0 L447.3 431.5 L441.0 450.3 L452.8 457.8 L437.8 479.1 L426.5 494.6 L410.7 496.6 L403.5 507.9 L404.7 524.7 L392.7 527.2 L396.5 537.9 L374.7 549.2 L357.2 556.2 L360.2 570.0 L347.2 591.2 L341.4 610.0 M198.3 256.4 L202.5 263.9 L198.3 271.4 M278.1 273.9 L265.8 276.4 L265.6 290.1 L272.6 294.6 L268.1 298.2 L269.6 303.9 L264.6 317.2 M445.3 302.2 L442.0 306.4 L449.5 326.4 L443.3 335.9 L432.8 333.2 L429.0 349.7 M396.5 537.9 L429.0 555.4 L435.3 554.9 L442.8 569.2 L470.3 573.7 L479.6 568.4 L494.1 578.0 L509.1 586.0 L517.9 583.0 L539.1 598.0 L547.9 610.0 M509.1 586.0 L512.9 610.0 M640.0 202.5 L618.5 207.6 L611.7 223.3 L598.4 233.1 L588.7 245.8 L584.9 268.1 L576.2 287.1 L592.2 289.4 L596.7 303.9 L604.2 311.4 L606.7 323.9 L602.5 336.4 L603.7 342.7 L612.2 345.7 L619.7 357.0 L640.0 355.2 M640.0 209.6 L619.2 213.1 L629.7 228.8 L629.2 245.1 L615.5 263.9 L627.5 290.1 L640.0 288.1 M638.0 230.1 L639.2 253.9 M341.9 608.0 L341.4 610.0 L330.2 615.0 L335.2 645.0 L328.9 653.8 L348.2 668.3 L360.9 653.0 L368.2 667.6 L351.4 690.6 L325.1 711.4 L314.6 733.9 L330.9 765.2 L320.1 779.7 L343.2 792.7 L368.2 813.5 L377.7 836.5 L391.5 851.5 L420.3 914.1 L452.8 975.4 L481.1 1020.5 L475.3 1029.2 L488.6 1055.5 L497.3 1061.7 M351.4 690.6 L355.2 704.6 L344.7 712.1 L345.7 724.4 L359.7 721.4 L372.7 725.1 L386.0 741.4 L404.0 727.6 L410.2 705.9 L429.8 678.1 L469.1 665.6 L504.1 632.0 L514.9 610.0 L515.4 608.0 M546.6 608.0 L549.1 615.0 L564.7 622.5 L582.9 655.8 L607.2 660.1 L625.0 651.3 L641.7 658.1 M641.7 723.9 L623.0 726.4 L606.7 735.1 L589.2 747.2 L586.7 763.9 L577.9 777.2 L581.7 794.0 L570.4 798.2 L560.4 805.2 L562.9 816.5 L554.2 819.0 L552.9 824.7 L561.7 834.0 L566.7 851.5 L576.7 862.8 L586.7 872.8 L577.9 886.6 L600.5 888.3 L606.7 887.8 L613.0 901.6 L611.7 905.8 L641.7 905.8 M641.7 725.6 L624.2 728.1 L590.4 748.2 L587.9 765.2 M581.7 795.2 L561.7 804.7 M554.2 824.7 L565.4 851.5 L587.4 873.3 M600.5 888.3 L611.7 904.8 L641.7 904.3 M562.9 810.2 L595.4 824.7 L641.7 837.8 M545.4 1957.0 L542.1 1973.8 L562.7 1978.0 L566.7 1957.0 M593.7 1957.0 L577.7 2013.1 L542.1 2001.3 L530.9 2054.6 L500.1 2083.1 L550.1 2093.1 L515.1 2118.2 L501.3 2149.0 L505.1 2203.3 L522.6 2224.8 L512.6 2244.1 L522.6 2264.8 L562.7 2282.9 L600.2 2305.4 L636.5 2315.4 L649.8 2314.1 L654.8 2284.6 L681.5 2273.3 L700.3 2264.1 L741.6 2267.3 L720.3 2248.3 L709.8 2215.3 L723.3 2199.8 L752.9 2187.2 L773.4 2149.5 L811.7 2130.9 L822.9 2102.2 L791.7 2095.6 L759.9 2072.6 L769.1 2048.1 L794.2 2032.1 L825.5 2032.1 L832.5 2013.8 L837.5 1982.0 L868.0 1960.5 M614.7 1957.0 L620.2 1978.8 L635.7 1991.3 L624.5 2005.6 L640.2 2011.8 L643.5 2023.8 L628.5 2029.6 L632.7 2048.1 L620.7 2090.6 L603.2 2118.4 L607.2 2135.2 L597.2 2155.2 L572.2 2169.0 L574.7 2202.8 L586.4 2215.3 L607.7 2212.8 L607.2 2237.1 L620.7 2256.6 L699.1 2259.8 L725.3 2265.3 L741.6 2267.3 M532.6 2282.9 L557.7 2290.4 L604.0 2311.6 L646.5 2322.9 L662.8 2307.9 L674.0 2285.9 L702.8 2272.8 L726.1 2277.1 L739.1 2291.6 L754.6 2315.4 L796.7 2334.7 L842.2 2342.4 L827.2 2359.2 L796.7 2360.4 L780.4 2349.2 L769.1 2362.2 L742.1 2371.7 L707.8 2368.7 L684.0 2358.4 L650.3 2354.2 L609.0 2334.7 L575.2 2318.4 L532.6 2282.9 M726.1 2277.1 L726.1 2348.4 L760.4 2348.4 L780.4 2349.2 M638.0 1153.1 L670.0 1171.4 L677.5 1217.7 L679.5 1271.5 L658.8 1409.1 L653.8 1471.7 L638.0 1504.2 M704.6 1058.0 L702.6 1063.8 L708.8 1075.5 L701.8 1085.8 L715.8 1113.1 L695.6 1147.6 L687.1 1163.9 L670.0 1171.4 M695.6 1147.6 L711.3 1169.4 L715.1 1191.9 L732.6 1205.9 L722.1 1237.7 L740.1 1273.2 L752.1 1317.8 L775.1 1313.5 M775.1 1313.5 L779.7 1321.5 L768.4 1355.3 L733.4 1371.1 L734.6 1424.7 L727.6 1434.7 L737.1 1447.9 L715.1 1467.9 L693.8 1498.0 L688.1 1512.5 M775.1 1313.5 L801.9 1284.5 L844.0 1292.8 L863.2 1315.8 L875.3 1289.8 L912.8 1290.8 L918.6 1297.8 M918.6 1297.8 L931.1 1259.5 L931.6 1242.2 L946.6 1213.9 L1002.9 1204.4 L1032.9 1204.7 L1062.5 1221.4 M918.6 1297.8 L976.6 1350.3 L1002.4 1355.3 L1042.2 1379.1 L1076.7 1392.1 L1081.0 1406.1 L1048.7 1454.9 L1080.5 1463.4 L1092.5 1465.4 M995.4 1058.0 L995.4 1067.5 L986.6 1068.8 L996.6 1080.0 L999.1 1105.8 L1060.5 1106.8 L1054.2 1120.1 L1056.7 1135.1 L1076.7 1146.3 L1084.2 1167.6 L1078.0 1192.6 L1065.5 1216.4 L1063.0 1230.2 L1073.0 1249.0 L1074.2 1260.2 L1070.5 1272.7 L1070.0 1294.0 L1092.5 1297.0 M986.6 1068.8 L992.9 1085.0 L997.9 1105.8 M1060.5 1106.8 L1053.0 1118.8 L1055.0 1135.1 L1074.2 1147.6 L1081.7 1167.6 L1075.0 1191.4 M1065.5 1216.4 L1070.5 1207.7 L1074.2 1225.2 L1063.0 1230.2 M1083.0 1156.4 L1092.5 1156.4 M689.6 1508.0 L682.5 1527.0 L685.0 1558.3 L665.0 1591.3 L680.0 1646.9 L688.1 1652.7 L688.1 1682.7 L670.0 1714.0 L670.8 1740.8 L646.3 1762.0 L646.3 1791.6 L655.5 1822.8 L638.0 1834.1 M1092.5 1540.0 L1080.5 1553.0 L1071.7 1582.6 L1064.2 1612.6 L1064.7 1645.1 L1057.5 1652.7 L1053.0 1689.7 L1092.5 1718.2 M1080.5 1553.0 L1092.5 1555.6 M1055.5 1673.9 L1075.0 1690.7 L1092.5 1689.7 M1092.5 1789.1 L1076.7 1811.1 L1029.2 1827.8 L964.6 1834.9 L929.1 1831.1 L935.8 1850.9 L929.1 1874.7 L935.3 1891.2 L916.1 1902.4 L882.8 1906.7 L852.2 1894.9 L839.5 1903.4 L844.0 1935.0 L866.0 1945.5 L883.3 1935.5 L892.8 1952.2 L862.7 1962.0 M637.5 183.8 L640.0 185.0 L645.5 191.8 L640.0 202.5 M640.0 247.6 L649.3 263.9 L642.0 288.1 L640.0 288.1 M640.0 228.8 L677.5 215.6 L672.5 200.0 L684.3 190.0 L695.6 212.6 L718.1 213.1 L739.4 231.3 L740.6 241.8 L770.1 241.8 L803.9 238.8 L822.2 253.4 L846.5 257.6 L865.2 247.1 L865.2 238.8 L905.3 236.8 L944.1 235.8 L916.6 246.3 L927.3 261.9 L951.6 263.9 L977.9 280.1 L982.9 305.2 L999.1 304.7 L1012.2 312.7 L1034.2 323.9 L1053.0 344.7 L1054.2 361.0 L1065.5 361.7 L1090.0 382.7 M950.3 234.3 L968.4 230.6 L976.1 232.1 L974.6 256.4 L954.1 258.9 L941.6 257.6 L951.6 247.6 L950.3 234.3 M1012.2 312.7 L986.6 331.4 L983.6 344.0 L994.9 355.2 L986.6 360.2 L966.6 365.7 L967.4 380.7 L958.6 389.5 L981.6 415.3 L985.4 422.8 M1090.0 417.8 L1071.0 425.8 L1073.0 434.1 L1067.0 450.8 L1081.0 474.8 L1090.0 474.8 M640.0 354.7 L660.5 353.2 L679.3 357.7 L702.1 385.7 L713.8 382.0 L738.4 383.5 L755.9 379.5 L768.4 385.2 L762.6 402.8 L754.6 414.0 L751.9 436.6 L757.6 457.8 L768.9 468.3 L769.4 474.1 L752.6 490.9 L763.9 497.4 L774.4 509.1 L782.7 540.4 M698.8 610.0 L696.3 599.2 L680.0 586.7 L680.0 562.9 L685.0 562.4 L699.3 557.9 L706.3 561.7 L710.1 560.4 L708.8 550.4 L702.6 547.4 L687.1 547.9 L687.1 526.7 L696.3 524.9 L701.3 526.7 L738.9 526.7 L738.4 520.4 L741.4 517.9 L745.1 524.2 L751.4 527.4 L762.1 514.9 L766.4 513.6 L771.4 520.4 L776.4 544.2 L782.7 540.4 L800.2 557.9 L810.2 556.7 L820.2 550.4 L826.5 552.9 L827.2 559.2 L832.7 550.4 L840.2 544.2 L857.7 536.7 L869.0 532.9 L873.3 520.4 L895.3 511.6 L895.8 505.4 L866.5 501.6 L862.2 481.6 L863.5 460.3 L849.0 450.3 L851.5 444.1 L857.7 447.8 L874.0 454.1 L886.5 455.8 L896.5 455.3 L905.3 461.6 L909.0 466.6 L915.3 464.1 L915.3 452.8 L926.6 447.8 L935.3 449.1 L955.3 442.8 L962.9 436.6 L972.9 435.3 L985.4 422.8 L984.1 414.0 L997.9 412.8 L1004.2 419.0 L1000.4 435.3 L1012.9 439.1 L1019.2 454.1 L1009.2 466.6 L1004.9 492.9 L1010.4 506.6 L1014.7 522.9 L1025.4 532.9 L1036.7 540.4 L1050.5 539.2 L1055.5 532.2 L1065.5 530.4 L1078.0 526.7 L1090.0 517.9 M849.0 445.3 L866.5 459.1 L869.0 465.3 L869.0 480.4 L875.3 495.4 L874.0 501.6 M762.1 514.9 L770.1 527.9 L777.7 542.9 M810.2 556.7 L826.5 559.2 L840.2 544.2 M895.3 511.6 L902.8 512.9 L916.6 518.4 L915.3 530.4 L920.3 540.4 L925.3 556.7 L921.6 570.5 L922.8 585.5 L929.1 598.0 L930.3 605.5 L924.1 608.0 L926.6 610.0 M1036.7 540.4 L1041.7 573.0 L1040.4 590.5 L1045.4 603.0 L1053.0 610.0 M1040.4 573.5 L1001.6 573.5 L992.9 595.5 L995.4 603.0 L984.1 610.0 M954.1 610.0 L955.8 603.0 L965.4 597.5 L975.4 601.0 L980.4 610.0 M698.1 608.0 L701.3 620.0 L685.0 719.6 M638.7 656.6 L656.3 653.8 L681.3 669.6 L659.5 702.1 L670.0 702.6 L685.0 719.6 M638.7 725.6 L651.3 722.6 L657.0 716.4 L670.0 715.1 L677.5 720.1 L685.0 719.6 M638.7 727.6 L652.5 724.6 L658.0 718.1 L669.5 717.1 L677.5 721.6 L685.0 719.6 M638.7 836.2 L668.8 844.0 L785.2 900.3 M638.7 907.3 L660.0 891.6 L665.0 885.3 L667.0 887.8 L665.0 935.4 L678.8 939.9 L697.6 934.9 L722.6 936.6 L723.8 939.9 L736.4 935.9 L743.9 925.8 L753.9 924.1 L762.6 918.3 L775.1 912.8 L789.7 901.6 L829.0 895.3 L832.7 897.8 L834.0 910.3 L829.5 921.6 L832.7 935.4 L830.2 954.1 L842.7 967.9 L861.5 981.7 L880.3 984.2 L900.3 990.4 L905.3 989.9 L914.1 999.2 L935.3 1005.4 L946.6 1016.7 L967.9 1015.4 L981.6 1021.7 L987.9 1028.0 L989.1 1040.5 L994.9 1053.0 L995.4 1061.7 M638.7 905.3 L661.3 889.8 L661.3 936.6 L665.0 935.4 M665.0 935.4 L683.8 933.4 L722.6 936.6 M743.9 925.8 L755.1 925.8 L762.6 918.3 M789.7 901.6 L790.2 899.6 L827.7 893.3 L831.5 894.8 M829.5 921.6 L831.5 935.4 L829.0 954.9 L840.2 965.4 M861.5 982.9 L880.3 982.4 L897.8 991.7 L905.3 989.9 M935.3 1005.4 L946.6 1018.4 L967.9 1016.7 L981.6 1021.7 M697.6 934.9 L725.6 986.2 L718.8 996.7 L716.3 1046.7 L705.6 1061.7 M785.2 900.3 L788.9 895.3 L796.4 891.6 L797.7 885.3 L812.7 884.8 L818.2 889.8 L822.7 885.3 L836.5 879.8 L839.0 885.8 L844.0 881.5 L845.2 874.0 L852.7 870.3 L871.5 869.0 L870.8 861.5 L876.5 857.8 L876.5 851.5 L887.8 845.3 L889.8 839.0 L915.3 839.0 L920.3 847.8 L927.8 852.8 L932.8 861.5 L942.8 866.5 L946.6 861.5 L952.8 862.8 L955.8 865.3 M955.8 865.3 L952.8 881.5 L956.6 895.3 L954.1 910.3 L957.3 920.3 L955.8 935.9 L990.4 935.9 L992.9 939.1 L1004.2 939.1 L1007.9 947.9 L1001.6 956.6 L1002.9 965.4 L1007.9 970.4 L1010.4 980.4 L1005.4 990.4 L1001.6 997.9 L995.4 1002.9 L990.4 1015.4 L981.6 1021.7 M955.8 864.8 L1051.7 863.3 L1056.7 847.8 L1056.7 835.2 L1063.0 819.0 M1091.7 722.6 L1058.0 791.4 L1053.5 799.0 L1056.7 807.7 L1063.0 817.7 L1070.5 827.7 L1078.0 845.3 L1081.7 847.8 L1082.5 857.8 L1091.7 864.0 M925.3 608.0 L937.8 618.8 L944.1 627.5 L951.6 628.8 L954.1 608.0 M979.1 608.0 L984.1 611.3 L989.1 608.0 M1052.5 608.0 L1060.5 618.8 L1078.0 630.0 L1091.7 637.0 M965.9 2250.8 L1004.4 2231.5 L1031.4 2239.8 L1050.7 2226.5 L1077.7 2241.6 L1067.2 2252.8 L1023.4 2262.8 L1008.9 2251.1 L981.9 2265.8 L965.9 2250.8 M862.5 1963.0 L876.3 1958.7" fill="none" stroke="#000" stroke-width="4.2" stroke-linejoin="round" stroke-linecap="round"/></g>
<rect x="198.4" y="168.45" width="1771.1" height="2215.1" fill="none" stroke="#000" stroke-width="3.3"/>
<rect x="2011.3" y="2202.61" width="46.4" height="24.69" fill="#563105"/><rect x="2011.3" y="2178.52" width="46.4" height="24.69" fill="#5f3606"/><rect x="2011.3" y="2154.43" width="46.4" height="24.69" fill="#683c07"/><rect x="2011.3" y="2130.35" width="46.4" height="24.69" fill="#6e4007"/><rect x="2011.3" y="2106.26" width="46.4" height="24.69" fill="#774508"/><rect x="2011.3" y="2082.17" width="46.4" height="24.69" fill="#7e4909"/><rect x="2011.3" y="2058.08" width="46.4" height="24.69" fill="#874e0a"/><rect x="2011.3" y="2033.99" width="46.4" height="24.69" fill="#8f540c"/><rect x="2011.3" y="2009.90" width="46.4" height="24.69" fill="#955910"/><rect x="2011.3" y="1985.81" width="46.4" height="24.69" fill="#9d6116"/><rect x="2011.3" y="1961.73" width="46.4" height="24.69" fill="#a3671a"/><rect x="2011.3" y="1937.64" width="46.4" height="24.69" fill="#ab6e1f"/><rect x="2011.3" y="1913.55" width="46.4" height="24.69" fill="#b37625"/><rect x="2011.3" y="1889.46" width="46.4" height="24.69" fill="#b97b29"/><rect x="2011.3" y="1865.37" width="46.4" height="24.69" fill="#c08430"/><rect x="2011.3" y="1841.28" width="46.4" height="24.69" fill="#c48b3a"/><rect x="2011.3" y="1817.19" width="46.4" height="24.69" fill="#c99546"/><rect x="2011.3" y="1793.11" width="46.4" height="24.69" fill="#cea053"/><rect x="2011.3" y="1769.02" width="46.4" height="24.69" fill="#d2a75c"/><rect x="2011.3" y="1744.93" width="46.4" height="24.69" fill="#d7b169"/><rect x="2011.3" y="1720.84" width="46.4" height="24.69" fill="#dbb972"/><rect x="2011.3" y="1696.75" width="46.4" height="24.69" fill="#dfc37e"/><rect x="2011.3" y="1672.66" width="46.4" height="24.69" fill="#e3c989"/><rect x="2011.3" y="1648.57" width="46.4" height="24.69" fill="#e6cd92"/><rect x="2011.3" y="1624.48" width="46.4" height="24.69" fill="#e9d39d"/><rect x="2011.3" y="1600.40" width="46.4" height="24.69" fill="#ecd8a5"/><rect x="2011.3" y="1576.31" width="46.4" height="24.69" fill="#f0deb0"/><rect x="2011.3" y="1552.22" width="46.4" height="24.69" fill="#f3e4bb"/><rect x="2011.3" y="1528.13" width="46.4" height="24.69" fill="#f6e8c3"/><rect x="2011.3" y="1504.04" width="46.4" height="24.69" fill="#f6eacb"/><rect x="2011.3" y="1479.95" width="46.4" height="24.69" fill="#f6ecd1"/><rect x="2011.3" y="1455.86" width="46.4" height="24.69" fill="#f6eed9"/><rect x="2011.3" y="1431.78" width="46.4" height="24.69" fill="#f5f0e0"/><rect x="2011.3" y="1407.69" width="46.4" height="24.69" fill="#f5f1e6"/><rect x="2011.3" y="1383.60" width="46.4" height="24.69" fill="#f5f3ee"/><rect x="2011.3" y="1359.51" width="46.4" height="24.69" fill="#f4f4f4"/><rect x="2011.3" y="1335.42" width="46.4" height="24.69" fill="#f7f7f7"/><rect x="2011.3" y="1311.33" width="46.4" height="24.69" fill="#fafafa"/><rect x="2011.3" y="1287.24" width="46.4" height="24.69" fill="#fcfcfc"/><rect x="2011.3" y="1263.16" width="46.4" height="24.69" fill="#ffffff"/><rect x="2011.3" y="1239.07" width="46.4" height="24.69" fill="#fcfcfc"/><rect x="2011.3" y="1214.98" width="46.4" height="24.69" fill="#fafafa"/><rect x="2011.3" y="1190.89" width="46.4" height="24.69" fill="#f7f7f7"/><rect x="2011.3" y="1166.80" width="46.4" height="24.69" fill="#f4f4f4"/><rect x="2011.3" y="1142.71" width="46.4" height="24.69" fill="#eff3f3"/><rect x="2011.3" y="1118.62" width="46.4" height="24.69" fill="#e7f2f0"/><rect x="2011.3" y="1094.54" width="46.4" height="24.69" fill="#e2f0ee"/><rect x="2011.3" y="1070.45" width="46.4" height="24.69" fill="#dbefec"/><rect x="2011.3" y="1046.36" width="46.4" height="24.69" fill="#d4ede9"/><rect x="2011.3" y="1022.27" width="46.4" height="24.69" fill="#ceece8"/><rect x="2011.3" y="998.18" width="46.4" height="24.69" fill="#c7eae5"/><rect x="2011.3" y="974.09" width="46.4" height="24.69" fill="#bfe7e1"/><rect x="2011.3" y="950.00" width="46.4" height="24.69" fill="#b4e2db"/><rect x="2011.3" y="925.92" width="46.4" height="24.69" fill="#a8ddd5"/><rect x="2011.3" y="901.83" width="46.4" height="24.69" fill="#a0dad1"/><rect x="2011.3" y="877.74" width="46.4" height="24.69" fill="#95d6cc"/><rect x="2011.3" y="853.65" width="46.4" height="24.69" fill="#8dd2c7"/><rect x="2011.3" y="829.56" width="46.4" height="24.69" fill="#81cec2"/><rect x="2011.3" y="805.47" width="46.4" height="24.69" fill="#76c6ba"/><rect x="2011.3" y="781.38" width="46.4" height="24.69" fill="#6dbfb4"/><rect x="2011.3" y="757.29" width="46.4" height="24.69" fill="#61b7ac"/><rect x="2011.3" y="733.21" width="46.4" height="24.69" fill="#58b0a7"/><rect x="2011.3" y="709.12" width="46.4" height="24.69" fill="#4da89f"/><rect x="2011.3" y="685.03" width="46.4" height="24.69" fill="#419f97"/><rect x="2011.3" y="660.94" width="46.4" height="24.69" fill="#389991"/><rect x="2011.3" y="636.85" width="46.4" height="24.69" fill="#2f9189"/><rect x="2011.3" y="612.76" width="46.4" height="24.69" fill="#298b83"/><rect x="2011.3" y="588.67" width="46.4" height="24.69" fill="#21847c"/><rect x="2011.3" y="564.59" width="46.4" height="24.69" fill="#187c74"/><rect x="2011.3" y="540.50" width="46.4" height="24.69" fill="#12766e"/><rect x="2011.3" y="516.41" width="46.4" height="24.69" fill="#0a6f67"/><rect x="2011.3" y="492.32" width="46.4" height="24.69" fill="#046961"/><rect x="2011.3" y="468.23" width="46.4" height="24.69" fill="#016259"/><rect x="2011.3" y="444.14" width="46.4" height="24.69" fill="#015b52"/><rect x="2011.3" y="420.05" width="46.4" height="24.69" fill="#01564d"/><rect x="2011.3" y="395.97" width="46.4" height="24.69" fill="#005046"/><rect x="2011.3" y="371.88" width="46.4" height="24.69" fill="#004b40"/><rect x="2011.3" y="347.79" width="46.4" height="24.69" fill="#004439"/><rect x="2011.3" y="323.70" width="46.4" height="24.69" fill="#003e32"/><polygon points="2011.3,324.5 2034.5,229.4 2057.7,324.5" fill="#003c30"/><polygon points="2011.3,2226.5 2034.5,2321.4 2057.7,2226.5" fill="#543005"/><polygon points="2011.3,324.0 2034.5,229.4 2057.7,324.0 2057.7,2227.0 2034.5,2321.4 2011.3,2227.0" fill="none" stroke="#000" stroke-width="3.3" stroke-linejoin="miter"/><line x1="2057.7" y1="325.4" x2="2073.3" y2="325.4" stroke="#000" stroke-width="3.3"/><line x1="2057.7" y1="540.7" x2="2073.3" y2="540.7" stroke="#000" stroke-width="3.3"/><line x1="2057.7" y1="781.6" x2="2073.3" y2="781.6" stroke="#000" stroke-width="3.3"/><line x1="2057.7" y1="1022.5" x2="2073.3" y2="1022.5" stroke="#000" stroke-width="3.3"/><line x1="2057.7" y1="1263.4" x2="2073.3" y2="1263.4" stroke="#000" stroke-width="3.3"/><line x1="2057.7" y1="1504.3" x2="2073.3" y2="1504.3" stroke="#000" stroke-width="3.3"/><line x1="2057.7" y1="1745.2" x2="2073.3" y2="1745.2" stroke="#000" stroke-width="3.3"/><line x1="2057.7" y1="1986.1" x2="2073.3" y2="1986.1" stroke="#000" stroke-width="3.3"/><line x1="2057.7" y1="2227.3" x2="2073.3" y2="2227.3" stroke="#000" stroke-width="3.3"/>
<g transform="translate(1740,2180) scale(0.11123)">
<path d="M1435 200 L1650 418 L1585 418 C1580 600 1500 850 1330 1060 C1180 1230 950 1290 760 1268 C520 1235 300 1050 215 820 C185 740 170 650 168 560 C180 650 210 740 260 830 C350 980 520 1080 700 1080 C900 1075 1080 960 1180 790 C1250 670 1280 540 1280 418 L1200 418 Z" fill="#0072b8"/>
<path d="M168 560 C160 330 380 80 660 80 C900 80 1040 260 1035 505 L1100 510 L870 715 L685 510 L750 505 C760 400 680 310 540 310 C380 310 210 480 195 700" fill="none" stroke="#0072b8" stroke-width="15" stroke-linejoin="miter"/>
<circle cx="870" cy="888" r="152" fill="#f39200"/>
<text x="262" y="778" font-family="Liberation Sans, sans-serif" font-weight="bold" font-style="italic" font-size="238" textLength="455" lengthAdjust="spacingAndGlyphs" fill="#111">INPE</text>
</g>

</svg>
</body></html>
